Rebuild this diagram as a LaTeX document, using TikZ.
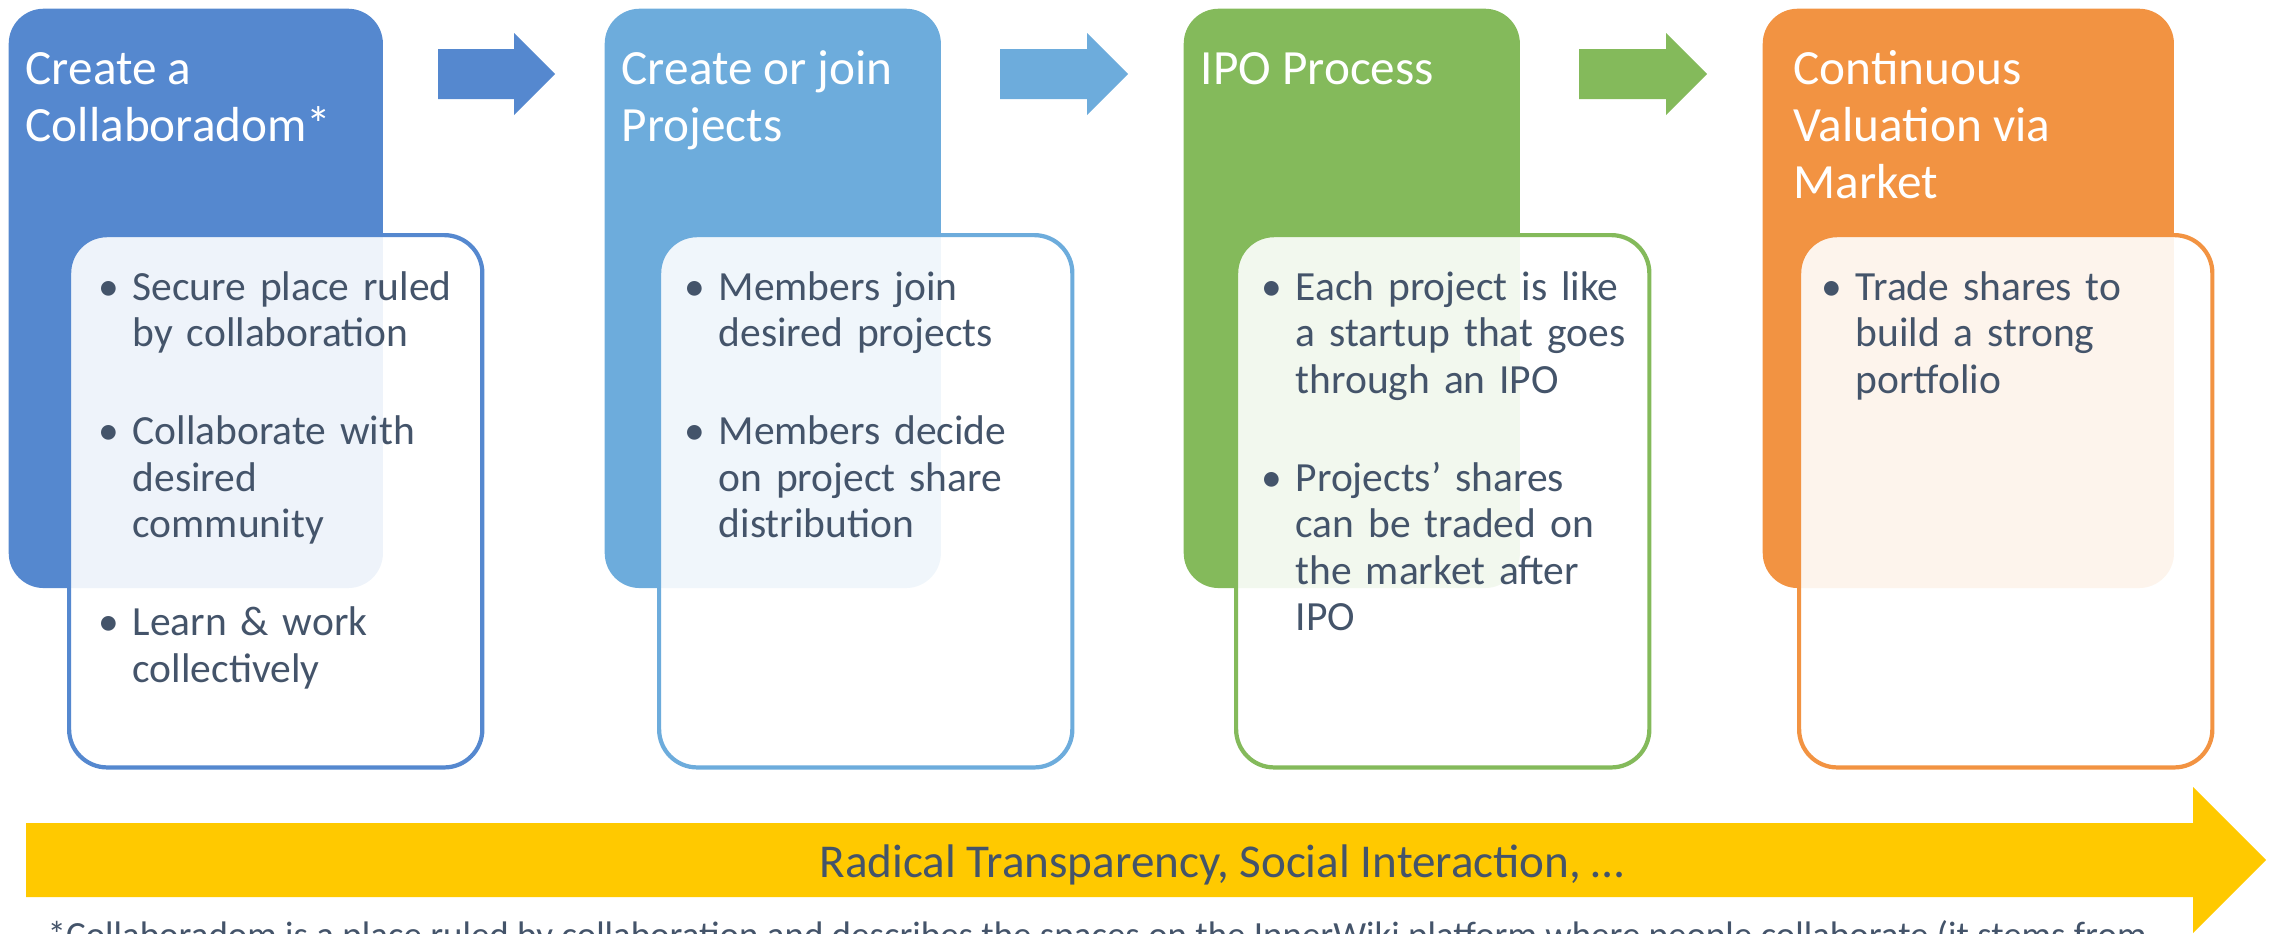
\documentclass[tikz,border=0pt]{standalone}
\usepackage{fontspec}
\setmainfont{Carlito}
\usetikzlibrary{positioning}

\definecolor{collabblue}{RGB}{85,136,207}
\definecolor{projblue}{RGB}{109,172,220}
\definecolor{ipogreen}{RGB}{132,186,91}
\definecolor{marketorange}{RGB}{242,147,66}
\definecolor{flowyellow}{RGB}{255,201,0}
\definecolor{slate}{RGB}{68,84,106}

% bullet item with hanging indent, line break, and the gap between two items
\newcommand{\bul}{\par\hangindent=0.34cm\hangafter=1\noindent\strut\makebox[0.34cm][l]{\textbullet}}
\newcommand{\nl}{\hfil\break}
\newcommand{\itemgap}{\par\vspace{14.65pt}}

\begin{document}
\begin{tikzpicture}[x=0.01cm, y=-0.01cm,
    head/.style={rounded corners=0.35cm, anchor=north west, minimum height=5.79cm, inner sep=0pt},
    pts/.style={fill=white, fill opacity=0.9, line width=1.2pt, rounded corners=0.38cm,
      anchor=north west, minimum width=4.13cm, minimum height=5.32cm, inner sep=0pt},
    title/.style={text=white, align=left, anchor=north west, inner sep=0pt,
      font=\fontsize{14}{16.2}\selectfont},
    body/.style={text=slate, anchor=north west, inner sep=0pt, text width=3.7cm,
      font=\fontsize{11.8}{13.23}\selectfont}]
  \useasboundingbox (0,0) rectangle (2270,933);

  % coloured step boxes
  \node (collab) [head, fill=collabblue, minimum width=3.74cm] at (8,8) {};
  \node (projects) [head, fill=projblue, minimum width=3.36cm] at (604,8) {};
  \node (ipo) [head, fill=ipogreen, minimum width=3.36cm] at (1183,8) {};
  \node (market) [head, fill=marketorange, minimum width=4.11cm] at (1762,8) {};

  % white boxes with the points
  \node (collabpts) [pts, draw=collabblue] at (67,233) {};
  \node (projectspts) [pts, draw=projblue] at (657,233) {};
  \node (ipopts) [pts, draw=ipogreen] at (1234,233) {};
  \node (marketpts) [pts, draw=marketorange] at (1797,233) {};

  % titles (first baseline at y=84)
  \node (collabtitle) [title] at (25,44) {\strut Create a\\Collaboradom*};
  \node (projectstitle) [title] at (621,44) {\strut Create or join\\Projects};
  \node (ipotitle) [title] at (1200,44) {\strut IPO Process};
  \node (markettitle) [title] at (1793,44) {\strut Continuous\\Valuation via\\Market};

  % points (first baseline at y=298)
  \node (collabtext) [body] at (98,253) {%
    \bul Secure place ruled\nl by collaboration\itemgap
    \bul Collaborate with\nl desired\nl community\itemgap
    \bul Learn \& work\nl collectively\par};
  \node (projectstext) [body] at (684,253) {%
    \bul Members join\nl desired projects\itemgap
    \bul Members decide\nl on project share\nl distribution\par};
  \node (ipotext) [body] at (1261,253) {%
    \bul Each project is like\nl a startup that goes\nl through an IPO\itemgap
    \bul Projects’ shares\nl can be traded on\nl the market after\nl IPO\par};
  \node (markettext) [body] at (1821,253) {%
    \bul Trade shares to\nl build a strong\nl portfolio\par};

  % block arrows between the steps
  \foreach \xa/\xb/\col in {438/514/collabblue, 1000/1087/projblue, 1579/1666/ipogreen}
    \fill[\col] (\xa,49) -- (\xb,49) -- (\xb,33) -- (\xb+41,74) -- (\xb,115)
      -- (\xb,99) -- (\xa,99) -- cycle;

  % long arrow underneath
  \fill[flowyellow] (26,823) -- (2193,823) -- (2193,787) -- (2266,860) -- (2193,933)
    -- (2193,897) -- (26,897) -- cycle;
  \node (flow) [text=slate, anchor=base, inner sep=0pt, font=\fontsize{13.4}{15}\selectfont]
    at (1222,877) {Radical Transparency, Social Interaction, …};

  % footnote, cut at the bottom edge
  \begin{scope}
    \clip (0,0) rectangle (2270,933);
    \node (note) [text=slate, anchor=base west, inner sep=0pt, font=\fontsize{10.5}{13}\selectfont]
      at (47,947) {*Collaboradom is a place ruled by collaboration and describes the spaces on the InnerWiki platform where people collaborate (it stems from};
  \end{scope}
\end{tikzpicture}
\end{document}
